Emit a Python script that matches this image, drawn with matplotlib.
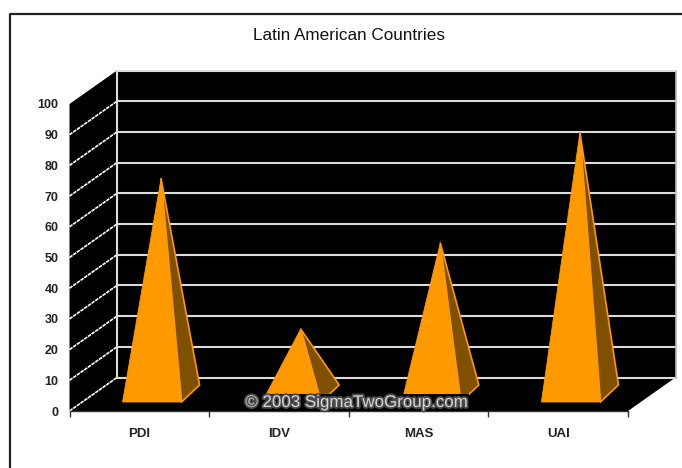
import matplotlib
matplotlib.use("Agg")
import matplotlib.pyplot as plt
import matplotlib.patheffects as pe
from matplotlib.lines import Line2D

categories = ["PDI", "IDV", "MAS", "UAI"]
values = [70, 21, 49, 85]
y_ticks = [0, 10, 20, 30, 40, 50, 60, 70, 80, 90, 100]

W, H = 682, 468
plt.rcParams["font.family"] = ["Liberation Sans", "DejaVu Sans"]

fig = plt.figure(figsize=(W / 100, H / 100), dpi=100)

# outer frame runs off the right and bottom edges
fig.add_artist(Line2D([9.5 / W, 9.5 / W, 1], [0, 1 - 13.5 / H, 1 - 13.5 / H],
                      color="#222222", lw=1.6))

# front plane of the 3D box, in pixels
left, right, top, bottom = 69.5, 628, 104, 411
ax = fig.add_axes([left / W, 1 - bottom / H, (right - left) / W, (bottom - top) / H])
ax.set_xlim(0, len(categories))
ax.set_ylim(0, 100)

px_x = len(categories) / (right - left)
px_y = 100 / (bottom - top)

# depth of the box
depth_x = 47.5 * px_x
depth_y = 33.5 * px_y
n = len(categories)

# back wall, side wall and floor
ax.fill([depth_x, n + depth_x, n + depth_x, depth_x],
        [depth_y, depth_y, 100 + depth_y, 100 + depth_y], color="black", clip_on=False, lw=0)
ax.fill([0, depth_x, depth_x, 0], [0, depth_y, 100 + depth_y, 100], color="black", clip_on=False, lw=0)
ax.fill([0, n, n + depth_x, depth_x], [0, 0, depth_y, depth_y], color="black", clip_on=False, lw=0)

# gridlines on the back wall and side wall
grid_col = "#dcdcdc"
for t in y_ticks:
    ax.plot([depth_x, n + depth_x], [t + depth_y, t + depth_y], color=grid_col, lw=1.5,
            clip_on=False, solid_capstyle="butt")
    if t < 100:
        ax.plot([0, depth_x], [t, t + depth_y], color="white", lw=1.2, ls=(0, (2.2, 0.5)), clip_on=False)
ax.plot([depth_x, depth_x], [depth_y, 100 + depth_y], color=grid_col, lw=1.5, clip_on=False)
ax.plot([n + depth_x, n + depth_x], [depth_y, 100 + depth_y], color="#b8b8b8", lw=1.2, clip_on=False)

# pyramids
face_col = "#ff9900"
side_col = "#7f5000"
half_w = 29.5 * px_x
front_dx = 12.75 * px_x
front_dy = 9 * px_y
back_dx = 18 * px_x
back_dy = 17 * px_y
for i, v in enumerate(values):
    cx = i + 0.5 + front_dx
    x0, x1 = cx - half_w, cx + half_w
    apex_x = (x0 + x1 + back_dx) / 2
    apex_y = v + front_dy + back_dy / 2
    ax.fill([x1, x1 + back_dx, apex_x], [front_dy, front_dy + back_dy, apex_y],
            facecolor=side_col, edgecolor=face_col, lw=1.2, joinstyle="round", clip_on=False, zorder=3)
    ax.fill([x0, x1, apex_x], [front_dy, front_dy, apex_y],
            facecolor=face_col, edgecolor=face_col, lw=0.6, joinstyle="round", clip_on=False, zorder=4)

for side in ["top", "right", "left"]:
    ax.spines[side].set_visible(False)
ax.spines["bottom"].set_color("#333333")
ax.spines["bottom"].set_linewidth(1.0)
ax.spines["bottom"].set_zorder(6)

ax.set_xticks(range(n + 1))
ax.set_xticklabels([])
ax.set_xticks([i + 0.5 for i in range(n)], labels=categories, minor=True)
ax.tick_params(axis="x", which="major", length=4, width=1, color="#333333", direction="out")
ax.tick_params(axis="x", which="minor", length=0, pad=12, labelsize=9.5, labelcolor="#222222")
ax.set_yticks(y_ticks)
ax.tick_params(axis="y", length=0, pad=8, labelsize=9, labelcolor="#222222")
for lab in ax.get_yticklabels() + ax.get_xticklabels(minor=True):
    lab.set_fontweight("bold")

fig.text(349 / W, 1 - 36 / H, "Latin American Countries", ha="center", va="center",
         fontsize=12.3, color="#111111")

# watermark sits on top of everything with a dark backing
fig.text(356.5 / W, 1 - 402.5 / H, "\u00a9 2003 SigmaTwoGroup.com", ha="center", va="center",
         fontsize=12.2, color="#d8d8d8", zorder=10,
         bbox=dict(facecolor="black", edgecolor="none", pad=0.8),
         path_effects=[pe.withStroke(linewidth=2.6, foreground="#4a4a4a")])

fig.savefig("out.png", dpi=100)
